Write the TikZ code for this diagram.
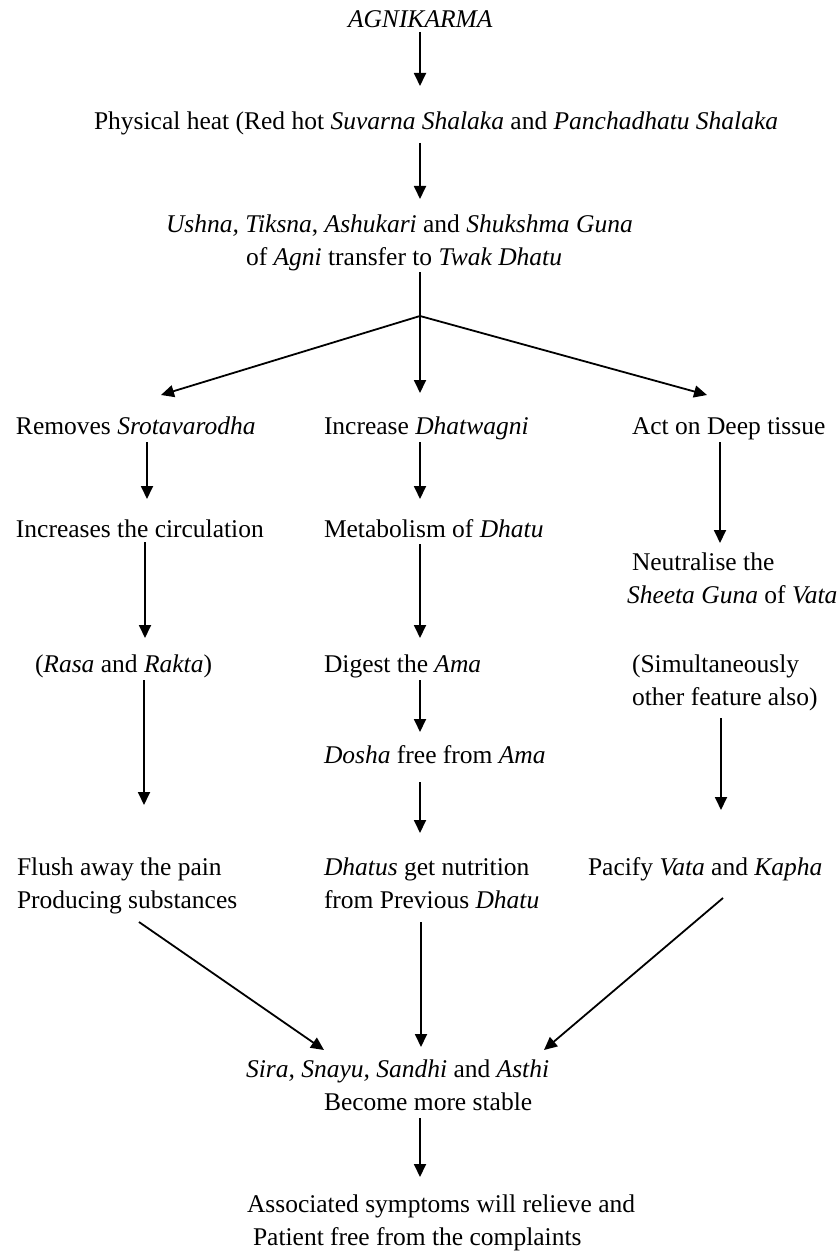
\documentclass[tikz,border=0pt]{standalone}
\usepackage{fontspec}
\setmainfont{Liberation Serif}
\usetikzlibrary{arrows.meta}
\newcommand{\fs}{\fontsize{25.5}{33}\selectfont}
\tikzset{
  lbl/.style={inner sep=0pt, outer sep=0pt, anchor=north west, align=left, yshift=23.1pt, font=\fs},
  arr/.style={line width=1.8pt, -{Triangle[length=13pt,width=12pt]}},
  ln/.style={line width=1.8pt}
}
\begin{document}
\begin{tikzpicture}[x=1pt,y=-1pt]
\useasboundingbox (0,0) rectangle (840,1252);
% nodes
\node[lbl] (agni) at (348,28) {\strut\textit{AGNIKARMA}};
\node[lbl] (phys) at (94,130) {\strut Physical heat (Red hot \textit{Suvarna Shalaka} and \textit{Panchadhatu Shalaka}};
\node[lbl] (guna) at (166,232) {\strut\textit{Ushna, Tiksna}, \textit{Ashukari} and \textit{Shukshma Guna}\\
  \hspace*{80pt}\strut of \textit{Agni} transfer to \textit{Twak Dhatu}};
\node[lbl] (rem) at (16,434) {\strut Removes \textit{Srotavarodha}};
\node[lbl] (inc) at (324,434) {\strut Increase \textit{Dhatwagni}};
\node[lbl] (act) at (632,434) {\strut Act on Deep tissue};
\node[lbl] (circ) at (16,537) {\strut Increases the circulation};
\node[lbl] (meta) at (324,537) {\strut Metabolism of \textit{Dhatu}};
\node[lbl] (neut) at (627,570) {\hspace*{5pt}\strut Neutralise the\\ \strut\textit{Sheeta Guna} of \textit{Vata}};
\node[lbl] (rasa) at (35,672) {\strut(\textit{Rasa} and \textit{Rakta})};
\node[lbl] (dig) at (324,672) {\strut Digest the \textit{Ama}};
\node[lbl] (simu) at (632,672) {\strut(Simultaneously\\ \strut other feature also)};
\node[lbl] (dosha) at (324,763) {\strut\textit{Dosha} free from \textit{Ama}};
\node[lbl] (flush) at (17,875) {\strut Flush away the pain\\ \strut Producing substances};
\node[lbl] (dhatus) at (324,875) {\strut\textit{Dhatus} get nutrition\\ \strut from Previous \textit{Dhatu}};
\node[lbl] (pacify) at (588,875) {\strut Pacify \textit{Vata} and \textit{Kapha}};
\node[lbl] (sira) at (246,1077) {\strut\textit{Sira, Snayu, Sandhi} and \textit{Asthi}\\
  \hspace*{78pt}\strut Become more stable};
\node[lbl] (assoc) at (247,1212) {\strut Associated symptoms will relieve and\\
  \hspace*{6pt}\strut Patient free from the complaints};
\coordinate (J) at (420,316);
% connectors
\draw[arr] ([yshift=5.9pt]agni.south -| 420,0) -- ([yshift=20.9pt]phys.north -| 420,0);
\draw[arr] ([yshift=-3.1pt]phys.south -| 420,0) -- ([yshift=9.9pt]guna.north -| 420,0);
\draw[ln] ([yshift=2.9pt]guna.south -| 420,0) -- (J);
\draw[arr] (J) -- ([yshift=15.9pt]rem.north -| 161,0);
\draw[arr] (J) -- ([yshift=17.9pt]inc.north -| 420,0);
\draw[arr] (J) -- ([yshift=15.9pt]act.north -| 707,0);
\draw[arr] ([yshift=1.9pt]rem.south -| 147,0) -- ([yshift=14.9pt]circ.north -| 147,0);
\draw[arr] ([yshift=1.9pt]inc.south -| 420,0) -- ([yshift=14.9pt]meta.north -| 420,0);
\draw[arr] ([yshift=1.9pt]act.south -| 720,0) -- ([yshift=3.9pt]neut.north -| 720,0);
\draw[arr] ([yshift=4.9pt]circ.south -| 145,0) -- ([yshift=10.9pt]rasa.north -| 145,0);
\draw[arr] ([yshift=2.9pt]meta.south -| 420,0) -- ([yshift=10.9pt]dig.north -| 420,0);
\draw[arr] ([yshift=1.9pt]rasa.south -| 144,0) -- ([yshift=46.9pt]flush.north -| 144,0);
\draw[arr] ([yshift=1.9pt]dig.south -| 420,0) -- ([yshift=7.9pt]dosha.north -| 420,0);
\draw[arr] ([yshift=-3.1pt]simu.south -| 721,0) -- ([yshift=41.9pt]pacify.north -| 721,0);
\draw[arr] ([yshift=-9.1pt]dosha.south -| 420,0) -- ([yshift=18.9pt]dhatus.north -| 420,0);
\draw[arr] ([yshift=-4.1pt]flush.south -| 139,0) -- ([yshift=3.9pt]sira.north -| 324,0);
\draw[arr] ([yshift=-4.1pt]dhatus.south -| 421,0) -- ([yshift=6.9pt]sira.north -| 421,0);
\draw[arr] ([yshift=-13.1pt]pacify.south -| 723,0) -- ([yshift=3.9pt]sira.north -| 544,0);
\draw[arr] ([yshift=1.9pt]sira.south -| 420,0) -- ([yshift=11.9pt]assoc.north -| 420,0);
\end{tikzpicture}
\end{document}
